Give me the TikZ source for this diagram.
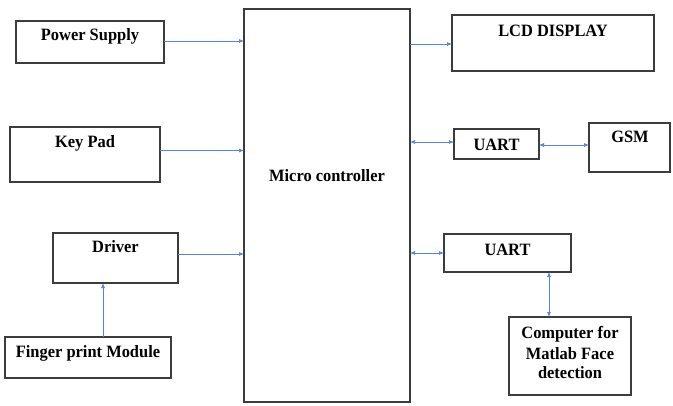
\documentclass[tikz,border=0pt]{standalone}
\usepackage{fontspec}
\setmainfont{Liberation Serif}
\newfontfamily\lblfont{Liberation Serif}[FakeStretch=0.95]
\usetikzlibrary{arrows.meta}
\definecolor{boxline}{HTML}{3C3C3C}
\definecolor{linkblue}{HTML}{5585D2}
\tikzset{
  blk/.style={draw=boxline, line width=1.3pt, rectangle, inner sep=0pt, outer sep=0pt},
  lbl/.style={font=\lblfont\fontsize{17.3}{20}\selectfont\bfseries, inner sep=0pt, anchor=base, align=center, text=black},
  arr/.style={draw=linkblue, line width=0.7pt, -{Latex[length=5pt,width=4pt]}},
  biarr/.style={draw=linkblue, line width=0.7pt, {Latex[length=5pt,width=4pt]}-{Latex[length=5pt,width=4pt]}}
}
\begin{document}
\begin{tikzpicture}[x=1pt,y=-1pt]
\useasboundingbox (0,0) rectangle (673,405);

% blocks (corner to corner)
\node[blk, minimum width=148pt, minimum height=42pt] (ps) at (90,42) {};
\node[blk, minimum width=150pt, minimum height=55pt] (kp) at (85,154.5) {};
\node[blk, minimum width=125pt, minimum height=50pt] (dr) at (115.5,258) {};
\node[blk, minimum width=166pt, minimum height=41pt] (fp) at (88,357.5) {};
\node[blk, minimum width=166pt, minimum height=393pt] (mc) at (327,205.5) {};
\node[blk, minimum width=202pt, minimum height=56pt] (lcd) at (553,43) {};
\node[blk, minimum width=85pt, minimum height=30pt] (u1) at (496.5,144) {};
\node[blk, minimum width=81pt, minimum height=49pt] (gsm) at (629.5,147.5) {};
\node[blk, minimum width=127pt, minimum height=38pt] (u2) at (507.5,253) {};
\node[blk, minimum width=122pt, minimum height=78pt] (pc) at (570,356) {};

% labels
\node[lbl] (psT) at (90,40) {Power Supply};
\node[lbl] (kpT) at (85,147) {Key Pad};
\node[lbl] (drT) at (115.5,252) {Driver};
\node[lbl] (fpT) at (88,357) {Finger print Module};
\node[lbl] (mcT) at (327,181) {Micro controller};
\node[lbl] (lcdT) at (553,36) {LCD DISPLAY};
\node[lbl] (u1T) at (496.5,150) {UART};
\node[lbl] (gsmT) at (630,142) {GSM};
\node[lbl] (u2T) at (507.5,255) {UART};
\node[lbl] (pcT1) at (570,338) {Computer for};
\node[lbl] (pcT2) at (570,359) {Matlab Face};
\node[lbl] (pcT3) at (570,378) {detection};

% connectors (yshift is in page units: positive moves up)
\coordinate (fpx) at (103,0);
\coordinate (pcx) at (549,0);
\draw[arr] ([yshift=1pt]ps.east) -- ([yshift=1pt]ps.east -| mc.west);
\draw[arr] ([yshift=4pt]kp.east) -- ([yshift=4pt]kp.east -| mc.west);
\draw[arr] ([yshift=4pt]dr.east) -- ([yshift=4pt]dr.east -| mc.west);
\draw[arr] (fp.north -| fpx) -- (dr.south -| fpx);
\draw[arr] ([yshift=-1pt]lcd.west -| mc.east) -- ([yshift=-1pt]lcd.west);
\draw[biarr] ([yshift=2pt]u1.west -| mc.east) -- ([yshift=2pt]u1.west);
\draw[biarr] ([yshift=-1pt]u1.east) -- ([yshift=2.5pt]gsm.west);
\draw[biarr] (u2.west -| mc.east) -- (u2.west);
\draw[biarr] (u2.south -| pcx) -- (pc.north -| pcx);
\end{tikzpicture}
\end{document}
